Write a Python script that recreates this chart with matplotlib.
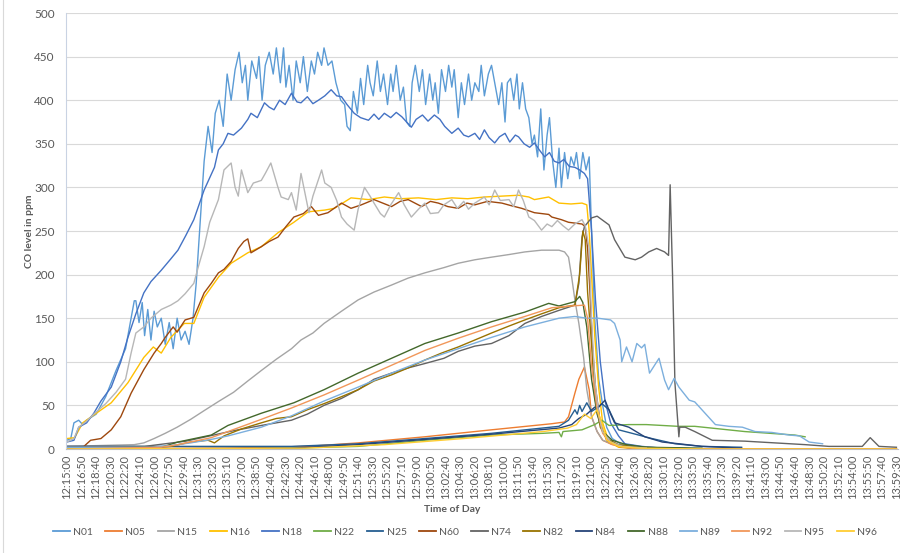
import matplotlib
matplotlib.use("Agg")
import matplotlib.pyplot as plt
from matplotlib.lines import Line2D

plt.rcParams['font.family'] = ['Lato', 'DejaVu Sans']

# ---- data: (minutes after 12:15:00, CO ppm) ----
N01 = [(0,10),(0.5,12),(0.9,30),(1.5,33),(2.0,28),(2.5,33),(3.7,40),(4.9,60),(6.2,90),(7.4,115),(8.1,150),(8.5,170),
       (8.7,170),(9.1,145),(9.5,168),(9.8,130),(10.2,160),(10.6,125),(11.0,158),(11.4,140),(11.9,150),(12.4,120),
       (12.9,145),(13.4,115),(13.9,150),(14.4,125),(14.9,135),(15.4,120),(15.9,150),(16.3,190),(16.8,260),(17.3,330),
       (17.8,370),(18.3,340),(18.7,385),(19.2,400),(19.7,370),(20.2,430),(20.7,400),(21.2,435),(21.7,455),(22.1,420),
       (22.5,440),(22.8,400),(23.3,445),(23.9,425),(24.2,450),(24.6,400),(25.0,440),(25.5,455),(26.0,430),(26.4,460),
       (26.9,420),(27.3,460),(27.6,415),(28.0,440),(28.5,400),(28.9,445),(29.4,420),(29.8,450),(30.3,410),(30.8,445),
       (31.2,430),(31.6,455),(32.1,440),(32.4,460),(32.9,440),(33.4,445),(33.9,420),(34.5,400),(35.0,395),(35.3,370),
       (35.7,365),(36.1,410),(36.6,385),(37.0,425),(37.4,395),(37.9,440),(38.2,420),(38.6,405),(39.1,445),(39.5,410),
       (39.9,430),(40.4,395),(40.8,430),(41.1,410),(41.5,440),(42.0,400),(42.4,415),(42.8,375),(43.2,370),(43.5,420),
       (43.9,440),(44.4,410),(44.8,435),(45.2,395),(45.7,430),(46.1,400),(46.4,420),(46.8,385),(47.2,435),(47.7,410),
       (48.1,440),(48.5,415),(48.8,435),(49.3,380),(49.7,420),(50.1,395),(50.6,430),(51.0,400),(51.4,420),(51.9,410),
       (52.2,440),(52.6,405),(53.1,430),(53.5,440),(54.0,415),(54.4,395),(54.8,420),(55.2,375),(55.5,420),(55.9,425),
       (56.3,400),(56.7,430),(57.0,390),(57.4,420),(57.8,390),(58.2,380),(58.6,350),(58.9,360),(59.3,335),(59.7,390),
       (60.1,320),(60.5,360),(60.8,380),(61.2,330),(61.6,300),(62.0,345),(62.3,300),(62.7,340),(63.1,310),(63.5,335),
       (63.9,325),(64.2,340),(64.6,310),(65.0,340),(65.4,320),(65.8,335),(66.1,250),(66.5,150),(67.0,80),(67.5,50),
       (68.0,25),(68.7,12),(69.9,5),(72.4,2),(80.0,0)]

N18 = [(0,8),(0.9,10),(1.5,25),(2.5,30),(3.4,41),(4.3,55),(5.6,71),(6.8,100),(7.7,128),(8.7,155),(9.7,179),(10.6,192),
       (11.9,205),(13.1,218),(14.0,228),(15.0,245),(16.0,263),(17.3,297),(18.6,323),(19.1,343),(19.7,350),(20.3,362),
       (21.0,360),(22.0,368),(22.8,378),(23.2,385),(24.0,380),(24.9,397),(25.5,392),(26.1,389),(26.8,400),(27.5,395),
       (28.3,408),(29.0,398),(29.5,397),(30.3,404),(31.0,396),(31.7,400),(32.5,405),(33.3,412),(34.0,405),(34.6,404),
       (35.3,395),(36.2,385),(37.0,380),(38.0,377),(38.7,384),(39.3,378),(40.0,385),(40.8,380),(41.5,386),(42.2,381),
       (42.8,375),(43.4,369),(44.0,378),(44.8,383),(45.5,376),(46.3,383),(47.0,378),(47.6,370),(48.5,362),(49.3,368),
       (50.0,360),(50.6,358),(51.4,362),(52.0,355),(52.6,366),(53.2,357),(53.9,351),(54.5,358),(55.2,362),(55.8,352),
       (56.5,360),(56.9,358),(57.6,350),(58.3,346),(58.9,351),(59.6,342),(60.2,335),(60.8,340),(61.4,330),(62.0,328),
       (62.6,332),(63.3,324),(64.0,323),(64.6,320),(65.2,316),(65.6,310),(66.1,250),(66.6,170),(67.2,100),(67.8,55),
       (68.5,30),(69.5,15),(70.3,6),(72.4,3),(75.0,1)]

N95 = [(0,8),(0.9,12),(1.5,25),(2.5,32),(3.4,40),(4.9,52),(6.2,65),(7.4,80),(8.1,110),(8.7,133),(9.7,140),(10.6,150),
       (11.9,160),(13.1,165),(14.0,170),(14.9,178),(16.0,190),(16.6,210),(17.3,232),(18.0,260),(19.1,286),(19.8,320),
       (20.7,328),(21.2,300),(21.6,290),(22.0,320),(22.8,294),(23.5,305),(24.5,308),(25.0,316),(25.7,328),(26.6,300),
       (27.0,289),(27.9,286),(28.3,294),(28.9,274),(29.5,316),(30.5,271),(31.0,290),(32.1,320),(32.5,305),(33.3,300),
       (34.0,285),(34.6,266),(35.3,258),(36.2,251),(36.7,275),(37.5,300),(38.2,290),(38.7,282),(39.5,270),(40.0,266),
       (40.8,280),(41.8,294),(42.5,280),(43.4,266),(44.3,275),(45.1,282),(45.8,270),(46.8,271),(47.5,280),(48.5,286),
       (49.2,276),(50.0,284),(50.6,275),(51.4,282),(52.6,289),(53.2,280),(53.9,297),(54.6,285),(55.7,286),(56.3,278),
       (56.9,297),(57.5,285),(58.2,266),(58.9,262),(59.8,251),(60.5,258),(61.1,255),(61.8,262),(62.5,256),(63.2,251),
       (64.0,258),(64.9,263),(65.3,256),(65.8,230),(66.1,150),(66.5,80),(67.0,40),(67.5,20),(68.5,8),(70.0,3),(73.0,1)]

N15 = [(0,3),(8.5,5),(9.7,7),(11.0,12),(12.4,18),(13.9,25),(15.6,34),(17.3,44),(19.2,55),(21.0,65),(22.8,78),
       (24.5,90),(26.4,103),(28.3,115),(29.5,125),(31.0,133),(32.4,144),(34.6,158),(36.7,171),(38.7,180),(40.9,188),
       (43.0,196),(45.1,202),(47.5,208),(49.3,213),(51.4,217),(53.5,220),(55.7,223),(57.7,226),(59.8,228),(62.0,228),
       (62.7,226),(63.2,220),(63.6,197),(64.0,171),(64.5,144),(65.1,105),(65.5,68),(66.1,37),(66.8,20),(67.5,10),
       (69.0,5),(72.0,2),(76.0,1)]

N16 = [(0,12),(1.0,13),(2.0,30),(3.4,39),(5.6,53),(7.7,76),(9.7,105),(10.9,117),(11.9,110),(13.1,128),(14.8,144),
       (16.0,144),(17.3,174),(19.1,197),(20.7,213),(22.8,225),(24.5,232),(26.6,248),(28.6,260),(30.4,272),(32.5,274),
       (33.7,276),(35.8,288),(38.0,286),(40.0,289),(42.0,287),(44.3,288),(46.5,286),(48.5,288),(50.5,287),(52.6,289),
       (54.8,290),(56.9,291),(58.2,289),(58.9,286),(60.7,289),(62.0,282),(63.5,281),(64.9,282),(65.5,280),(65.8,250),
       (66.1,200),(66.5,130),(67.0,70),(67.5,30),(68.3,8),(69.5,2),(72.0,0),(104.5,0)]

N60 = [(0,0),(1.8,0),(3.0,10),(4.3,12),(5.6,22),(6.8,37),(8.1,64),(9.7,91),(11.0,110),(11.9,121),(12.4,128),
       (13.4,140),(13.9,134),(14.9,148),(16.0,151),(17.3,179),(18.2,190),(19.1,202),(19.8,206),(20.7,215),(21.6,230),
       (22.3,238),(22.8,241),(23.2,225),(24.5,232),(25.5,238),(26.6,243),(27.6,255),(28.6,266),(29.8,270),(30.8,278),
       (31.7,268),(32.9,271),(34.6,282),(35.8,276),(37.1,280),(38.7,286),(39.8,282),(40.9,278),(42.0,284),(43.0,286),
       (44.7,278),(45.8,284),(46.8,282),(48.0,278),(49.3,276),(50.4,282),(51.4,280),(53.0,284),(54.8,282),(56.0,279),
       (57.3,276),(58.9,271),(60.7,269),(61.1,266),(62.3,263),(63.2,260),(64.9,258),(65.3,255),(65.6,230),(65.9,180),
       (66.2,120),(66.6,70),(67.2,30),(68.0,10),(69.5,3),(72.0,0),(104.5,0)]

N74 = [(0,3),(9.8,3),(12.4,6),(15.0,9),(18.0,15),(21.0,21),(24.5,27),(28.3,33),(30.3,40),(32.4,50),(34.6,58),
       (36.7,68),(38.7,80),(40.9,87),(43.0,93),(45.1,98),(47.5,104),(49.3,112),(51.4,118),(53.5,121),(55.7,130),
       (57.7,144),(59.8,152),(62.0,159),(64.0,165),(64.5,190),(64.9,243),(65.2,255),(66.1,265),(66.8,267),(68.3,257),
       (69.0,240),(70.3,220),(71.6,217),(72.4,220),(73.3,226),(74.3,230),(75.3,226),(75.8,222),(76.0,303),(76.3,200),
       (76.6,76),(77.1,14),(77.2,25),(77.9,25),(79.1,20),(81.3,10),(85.4,9),(93.0,5),(96.0,3),(100.2,3),(101.2,13),
       (102.3,3),(104.5,2)]

N88 = [(0,1),(10.6,2),(11.9,2),(14.0,8),(18.2,16),(20.3,27),(24.5,41),(28.6,53),(32.4,68),(36.7,87),(40.9,104),
       (45.1,121),(49.3,133),(53.5,146),(57.7,157),(60.7,167),(62.0,164),(64.0,169),(64.6,175),(65.0,168),(65.5,140),
       (66.1,80),(66.8,40),(67.5,20),(68.7,10),(70.5,5),(73.0,2),(80.0,1)]

N92 = [(0,0),(11.9,2),(14.0,5),(18.2,13),(20.3,20),(24.5,34),(28.3,47),(32.4,62),(36.7,79),(40.9,96),(45.1,113),
       (49.3,127),(53.5,140),(57.7,152),(61.1,162),(63.5,164),(65.2,165),(65.6,150),(66.1,95),(66.8,45),(67.5,18),
       (68.5,6),(70.0,2),(72.0,0),(104.5,0)]

N82 = [(0,0),(10.6,1),(13.1,3),(15.6,8),(17.8,10),(18.6,7),(19.8,15),(22.0,23),(24.5,30),(26.4,35),(28.3,37),
       (30.3,45),(32.4,52),(34.6,60),(36.7,68),(38.7,78),(40.9,85),(43.0,93),(45.1,102),(47.2,110),(49.3,117),
       (51.4,125),(53.5,133),(55.7,141),(57.7,148),(59.8,155),(62.0,162),(64.0,165),(64.6,200),(65.0,250),(65.3,240),
       (65.6,180),(66.1,120),(66.5,60),(67.2,25),(68.0,12),(69.5,5),(72.0,2),(80.0,0)]

N89 = [(0,2),(10.6,2),(13.1,4),(15.6,7),(18.2,11),(20.3,15),(24.5,25),(28.3,38),(32.4,55),(36.7,71),(40.9,87),
       (45.1,102),(49.3,115),(53.5,128),(57.7,140),(62.0,150),(64.0,152),(65.5,150),(66.9,150),(68.5,148),(69.0,144),
       (69.7,125),(69.9,100),(70.5,117),(71.2,100),(71.8,121),(72.4,116),(72.8,120),(73.4,87),(74.6,104),(75.3,79),
       (75.8,68),(76.5,81),(77.1,71),(78.4,56),(79.1,54),(80.4,41),(81.7,28),(83.4,26),(85.1,25),(86.7,20),(88.8,19),
       (91.0,16),(92.3,15),(93.5,8),(95.2,6)]

N05 = [(0,0),(20.0,1),(30.3,3),(36.7,7),(45.1,14),(53.5,22),(61.1,29),(62.7,31),(63.2,37),(64.0,64),(64.5,80),
       (65.2,94),(65.8,68),(66.1,37),(66.8,20),(67.5,10),(68.7,5),(71.2,2),(75.0,0),(104.5,0)]

N22 = [(0,0),(20.0,0),(28.3,1),(36.7,3),(45.1,10),(53.5,16),(60.0,18),(62.0,19),(62.3,14),(62.5,20),(64.9,22),
       (66.5,28),(67.4,33),(68.3,27),(70.8,28),(73.0,28),(77.0,26),(79.1,26),(85.4,20),(91.7,16),(93.0,14)]

N25 = [(0,3),(20.0,3),(28.3,3),(36.7,6),(45.1,12),(53.5,18),(62.0,26),(63.2,33),(64.0,45),(64.3,40),(64.6,50),
       (64.9,43),(65.5,53),(66.1,43),(66.9,48),(67.4,52),(68.3,45),(69.5,22),(71.2,18),(73.7,12),(76.6,6),(80.0,3),
       (85.0,2)]

N84 = [(0,0),(28.3,1),(36.7,5),(45.1,11),(53.5,17),(62.0,24),(63.6,28),(64.5,35),(65.5,40),(66.5,48),(67.0,48),
       (67.8,56),(68.5,40),(69.0,30),(70.8,25),(72.8,14),(75.0,8),(77.1,6),(80.0,3),(85.0,1)]

N96 = [(0,0),(30.0,1),(40.0,5),(50.0,12),(60.0,20),(63.1,24),(64.2,28),(65.2,40),(66.0,35),(66.8,45),(67.4,30),
       (68.0,10),(69.5,3),(72.0,1),(80.0,0),(104.5,0)]

series_names = ["N01", "N05", "N15", "N16", "N18", "N22", "N25", "N60",
                "N74", "N82", "N84", "N88", "N89", "N92", "N95", "N96"]
series_data = [N01, N05, N15, N16, N18, N22, N25, N60, N74, N82, N84, N88, N89, N92, N95, N96]
series_colors = ["#5B9BD5", "#ED7D31", "#A5A5A5", "#FFC000", "#4472C4", "#70AD47", "#255E91", "#9E480E",
                 "#636363", "#997300", "#264478", "#43682B", "#7CAFDD", "#F1975A", "#B7B7B7", "#FFCD33"]

tick_start_seconds = 12 * 3600 + 15 * 60   # 12:15:00
tick_step_seconds = 110
n_ticks = 58

# ---- figure ----
fig = plt.figure(figsize=(9.05, 5.53), dpi=100)
ax = fig.add_axes([66 / 905, 1 - 449 / 553, (898 - 66) / 905, (449 - 13) / 553])

for name, data, col in zip(series_names, series_data, series_colors):
    t = [p[0] for p in data]
    v = [p[1] for p in data]
    ax.plot(t, v, color=col, lw=1.0, label=name, solid_joinstyle='round')

ax.set_ylim(0, 500)
ax.set_yticks(range(0, 501, 50))
ax.set_xlim(-0.1, 104.7)

tick_pos = [k * tick_step_seconds / 60 for k in range(n_ticks)]
tick_lab = []
for k in range(n_ticks):
    s = tick_start_seconds + k * tick_step_seconds
    tick_lab.append("%d:%02d:%02d" % (s // 3600, (s % 3600) // 60, s % 60))
ax.set_xticks(tick_pos)
ax.set_xticklabels(tick_lab, rotation=90, fontsize=8, color="#595959")
ax.tick_params(axis='x', length=0, pad=4)
ax.tick_params(axis='y', length=0, pad=8, labelsize=8.5, labelcolor="#595959")

ax.grid(axis='y', color="#D9D9D9", lw=0.8)
ax.set_axisbelow(True)
for s in ["top", "right"]:
    ax.spines[s].set_visible(False)
ax.spines["left"].set_color("#C9D3E3")
ax.spines["bottom"].set_color("#BFBFBF")
ax.spines["left"].set_linewidth(0.8)
ax.spines["bottom"].set_linewidth(0.8)

fig.text(30 / 905, 1 - 231 / 553, "CO level in ppm", rotation=90, ha='center', va='center',
         fontsize=7.5, fontweight='bold', color="#595959")
fig.text(452 / 905, 1 - 510 / 553, "Time of Day", ha='center', va='center',
         fontsize=7.5, fontweight='bold', color="#595959")

handles = [Line2D([0], [0], color=c, lw=1.3) for c in series_colors]
fig.legend(handles, series_names, loc='center', bbox_to_anchor=(465 / 905, 1 - 532 / 553), ncol=16,
           frameon=False, fontsize=7.5, handlelength=1.6, handletextpad=0.3, columnspacing=1.2,
           labelcolor="#595959")

fig.add_artist(Line2D([3 / 905, 3 / 905], [0, 1], color="#D9D9D9", lw=0.8, transform=fig.transFigure))

fig.savefig("out.png", dpi=100)
